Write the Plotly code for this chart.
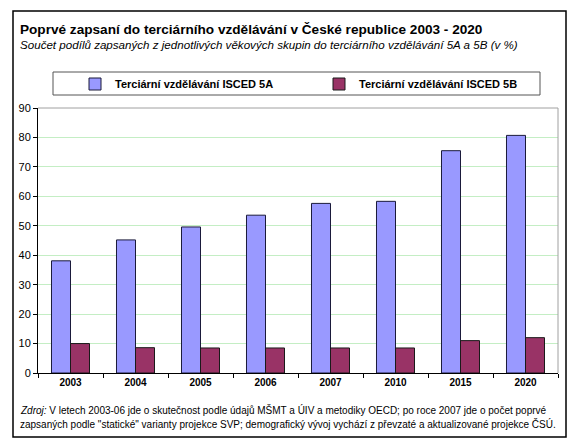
import plotly.graph_objects as go

years = ["2003", "2004", "2005", "2006", "2007", "2010", "2015", "2020"]
isced_5a = [38.1, 45.2, 49.6, 53.6, 57.6, 58.3, 75.5, 80.7]
isced_5b = [10.0, 8.6, 8.5, 8.5, 8.5, 8.5, 11.0, 12.0]
name_5a = "Terciární vzdělávání ISCED 5A"
name_5b = "Terciární vzdělávání ISCED 5B"

title = "Poprvé zapsaní do terciárního vzdělávání v České republice 2003 - 2020"
subtitle = "Součet podílů zapsaných z jednotlivých věkových skupin do terciárního vzdělávání 5A a 5B (v %)"
footer1 = "<i>Zdroj:</i> V letech 2003-06 jde o skutečnost podle údajů MŠMT a ÚIV a metodiky OECD; po roce 2007 jde o počet poprvé"
footer2 = "zapsaných podle \"statické\" varianty projekce SVP; demografický vývoj vychází z převzaté a aktualizované projekce ČSÚ."

# page has an 8px body margin; work in page pixels and convert
OFF = 8
W, H = 588 - OFF, 445 - OFF
L, R, T, B = 38 - OFF, 558 - OFF, 108 - OFF, 373 - OFF

def px(x):
    return (x - OFF - L) / (R - L)

def py(y):
    return (B - (y - OFF)) / (B - T)

fig = go.Figure()
fig.add_trace(go.Bar(x=years, y=isced_5a, name=name_5a,
                     marker=dict(color="#9999FF", line=dict(color="#1a1a3a", width=1))))
fig.add_trace(go.Bar(x=years, y=isced_5b, name=name_5b,
                     marker=dict(color="#993366", line=dict(color="#1a1a1a", width=1))))

font = "Liberation Sans, Arial, sans-serif"
fig.update_layout(
    width=W, height=H,
    margin=dict(l=L, r=W - R, t=T, b=H - B, pad=0, autoexpand=False),
    paper_bgcolor="white", plot_bgcolor="white",
    barmode="group", bargap=0.415, bargroupgap=0,
    font=dict(family=font, size=11, color="black"),
    showlegend=True,
    legend=dict(orientation="h", x=px(75), y=py(84), xanchor="left", yanchor="middle",
                entrywidth=199, entrywidthmode="pixels",
                font=dict(family=font, size=11, color="black", weight="bold"),
                bgcolor="rgba(0,0,0,0)", borderwidth=0),
    xaxis=dict(showline=True, linecolor="black", linewidth=1, ticks="outside",
               tickson="boundaries", ticklen=4, tickcolor="black", automargin=False,
               tickfont=dict(size=10, weight="bold"), showgrid=False),
    yaxis=dict(range=[0, 90], dtick=10, showline=True, linecolor="black", linewidth=1,
               ticks="outside", ticklen=4, tickcolor="black", tickfont=dict(size=11),
               automargin=False,
               showgrid=True, gridcolor="#C4EEC4", gridwidth=1, zeroline=False),
    shapes=[
        dict(type="rect", xref="paper", yref="paper", x0=px(13), x1=px(566), y0=py(437), y1=py(11),
             line=dict(color="black", width=1.5), fillcolor="rgba(0,0,0,0)", layer="below"),
        dict(type="rect", xref="paper", yref="paper", x0=px(53), x1=px(540), y0=py(95), y1=py(72),
             line=dict(color="#555555", width=1), fillcolor="rgba(0,0,0,0)", layer="below"),
        dict(type="line", xref="paper", yref="paper", x0=0, x1=1, y0=1, y1=1,
             line=dict(color="#A0A0A0", width=1)),
        dict(type="line", xref="paper", yref="paper", x0=1, x1=1, y0=0, y1=1,
             line=dict(color="#A0A0A0", width=1)),
    ],
    annotations=[
        dict(text="<b>" + title + "</b>", xref="paper", yref="paper", x=px(18), y=py(29),
             xanchor="left", yanchor="middle", showarrow=False, font=dict(size=13.6)),
        dict(text="<i>" + subtitle + "</i>", xref="paper", yref="paper", x=px(18), y=py(44),
             xanchor="left", yanchor="middle", showarrow=False, font=dict(size=11.6)),
        dict(text=footer1, xref="paper", yref="paper", x=px(18), y=py(410),
             xanchor="left", yanchor="middle", showarrow=False, font=dict(size=10)),
        dict(text=footer2, xref="paper", yref="paper", x=px(18), y=py(424),
             xanchor="left", yanchor="middle", showarrow=False, font=dict(size=10)),
    ],
)

fig.write_html("out.html")
